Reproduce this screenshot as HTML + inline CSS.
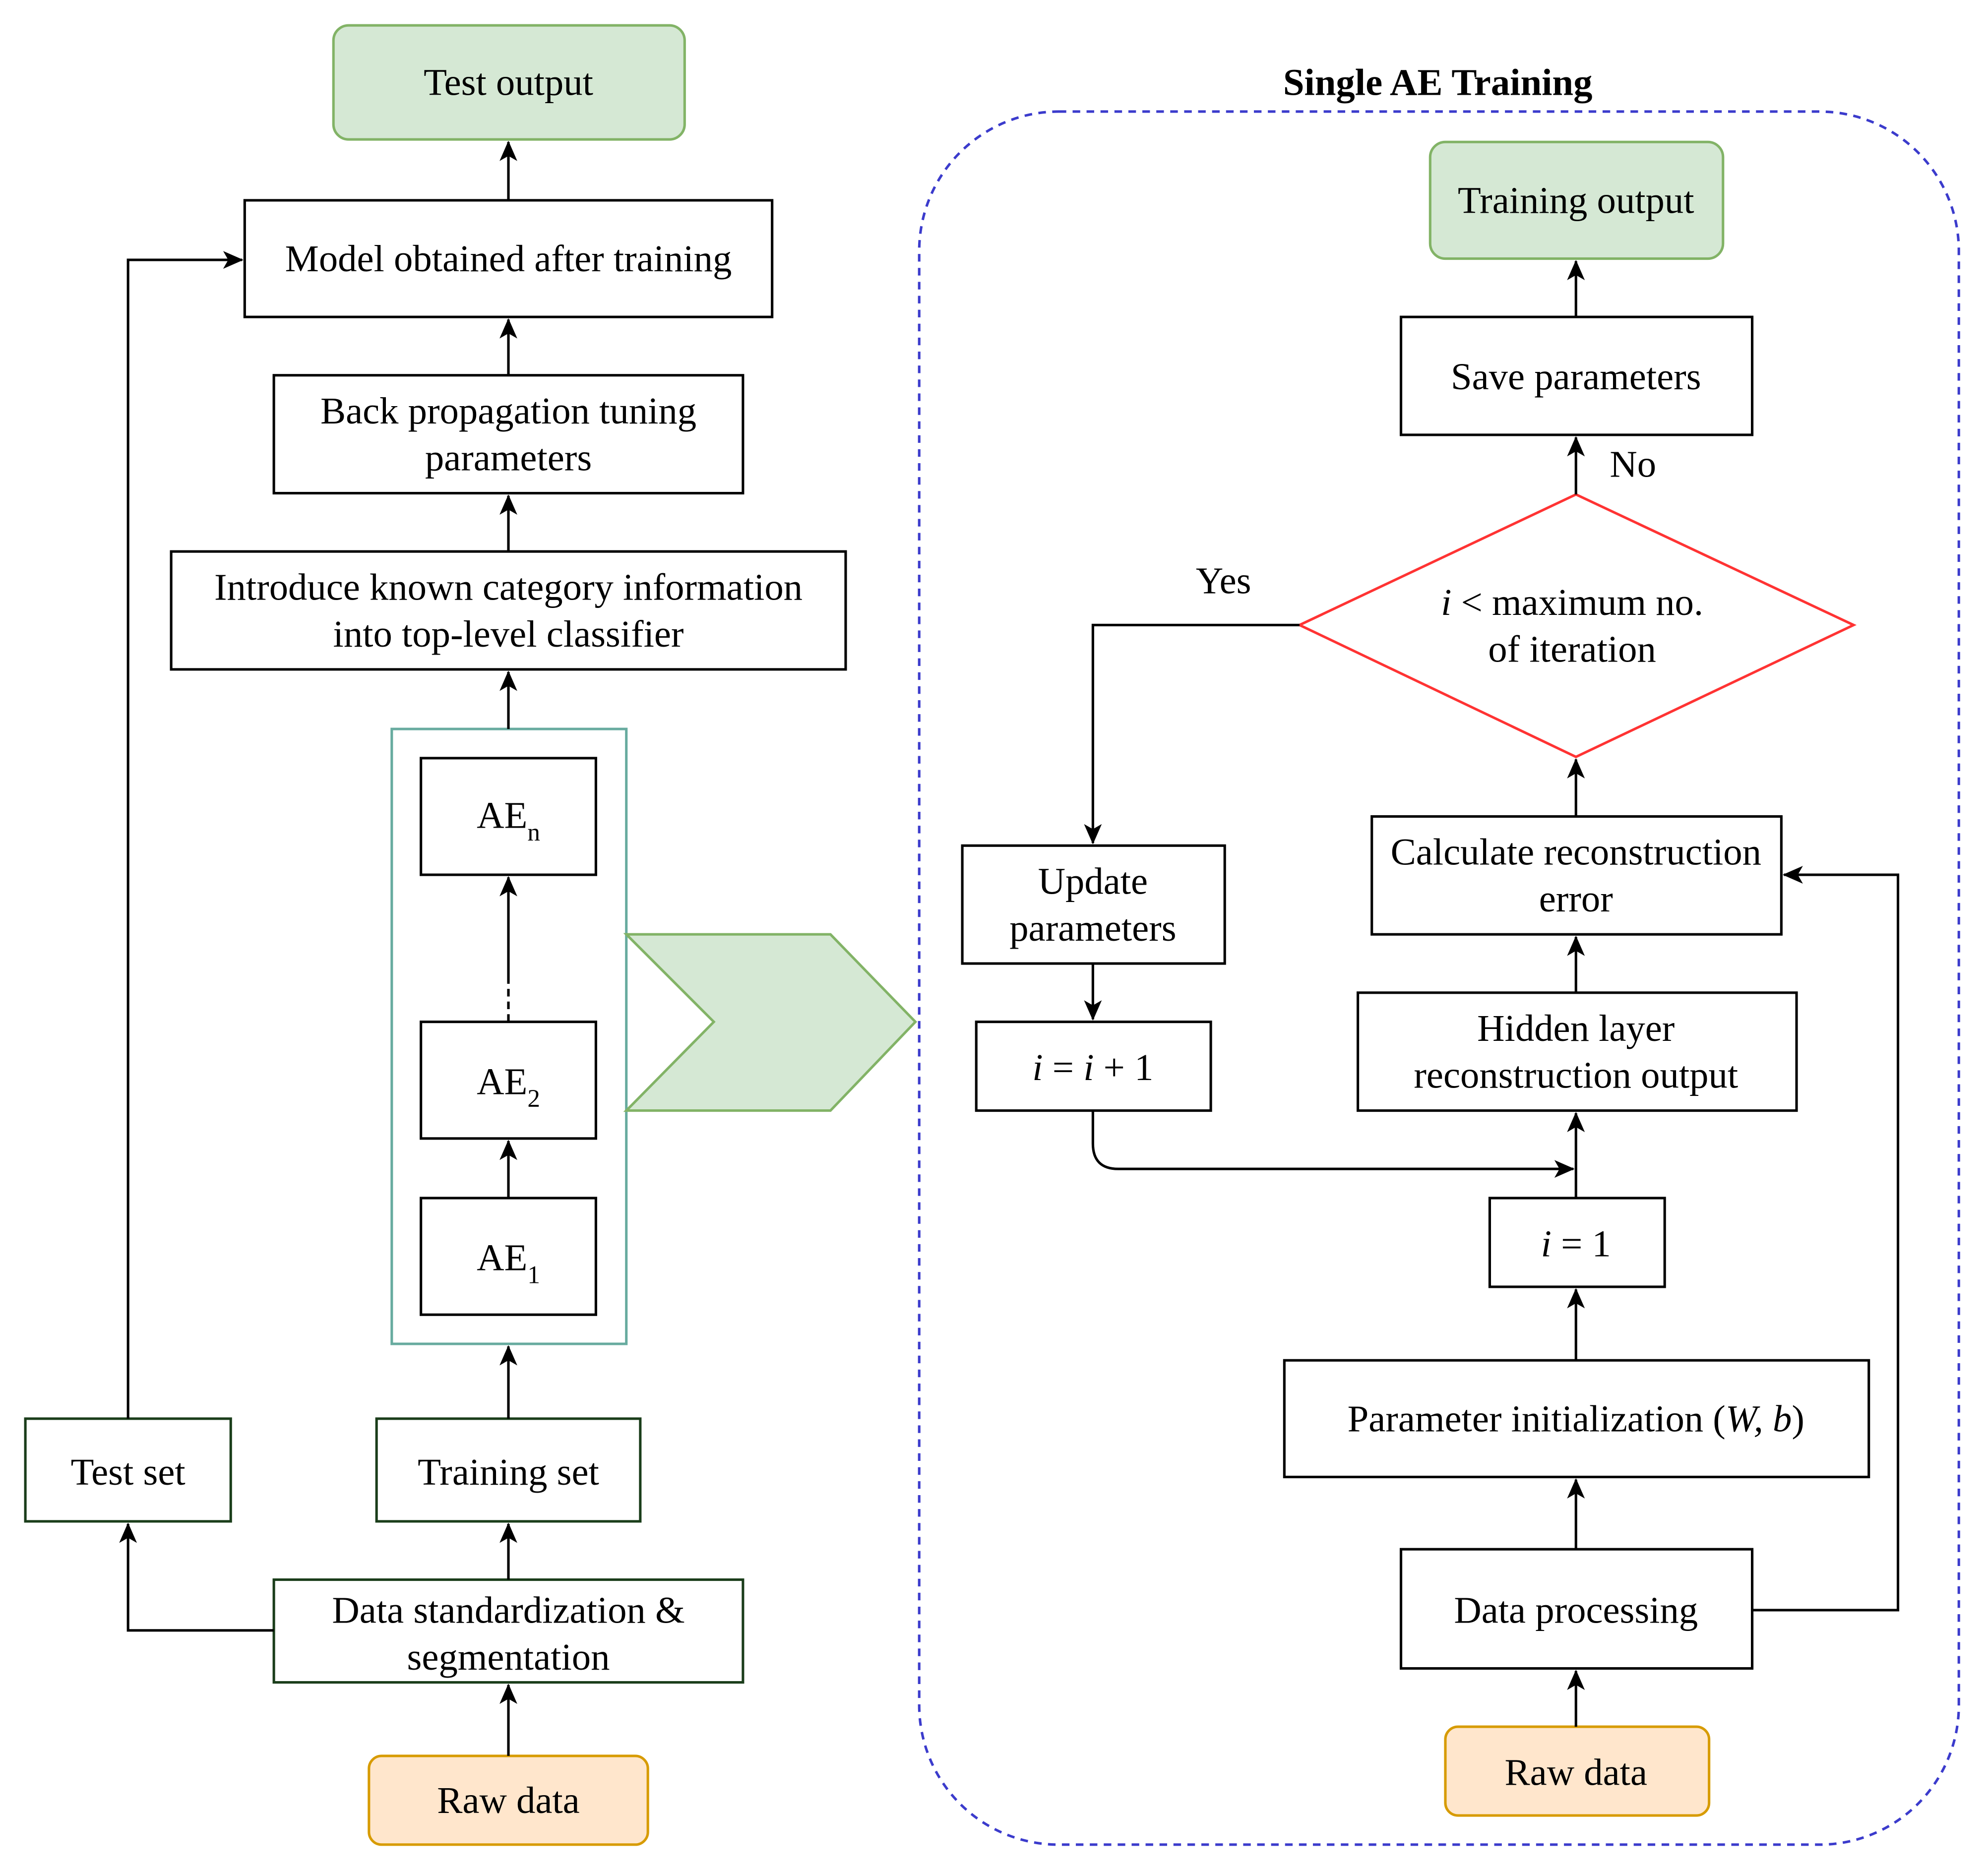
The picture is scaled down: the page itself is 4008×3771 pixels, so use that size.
<!DOCTYPE html>
<html><head><meta charset="utf-8"><style>
html,body{margin:0;padding:0;background:#fff;}
svg{display:block;}
svg text{font-family:"Liberation Serif","DejaVu Serif",serif;font-size:30px;fill:#000;}
</style></head><body>
<svg width="4008" height="3771" viewBox="0 0 1568 1475" preserveAspectRatio="none" xmlns="http://www.w3.org/2000/svg" font-family="Liberation Serif, DejaVu Serif, serif">
<defs>
<marker id="a" markerWidth="16" markerHeight="16" refX="15" refY="8" orient="auto" markerUnits="userSpaceOnUse" viewBox="0 0 16 16">
<path d="M0,1 L16,8 L0,15 L4,8 Z" fill="#000"/></marker>
</defs>
<g fill="none" stroke="#000" stroke-width="2">
<rect x="263" y="20" width="277" height="90" rx="12" fill="#d5e8d4" stroke="#82b366"/>
<rect x="193" y="158" width="416" height="92" fill="#fff"/>
<rect x="216" y="296" width="370" height="93" fill="#fff"/>
<rect x="135" y="435" width="532" height="93" fill="#fff"/>
<rect x="309" y="575" width="185" height="485" stroke="#67ab9f"/>
<rect x="332" y="598" width="138" height="92"/>
<rect x="332" y="806" width="138" height="92"/>
<rect x="332" y="945" width="138" height="92"/>
<rect x="297" y="1119" width="208" height="81" stroke="#1a3d1a"/>
<rect x="20" y="1119" width="162" height="81" stroke="#1a3d1a"/>
<rect x="216" y="1246" width="370" height="81" stroke="#1a3d1a"/>
<rect x="291" y="1385" width="220" height="70" rx="10" fill="#ffe6cc" stroke="#d79b00"/>
<polygon points="494,737 655,737 722,806 655,876 494,876 563,806" fill="#d5e8d4" stroke="#82b366"/>
<line x1="401" y1="158" x2="401" y2="112" marker-end="url(#a)"/>
<line x1="401" y1="296" x2="401" y2="252" marker-end="url(#a)"/>
<line x1="401" y1="435" x2="401" y2="391" marker-end="url(#a)"/>
<line x1="401" y1="575" x2="401" y2="530" marker-end="url(#a)"/>
<line x1="401" y1="945" x2="401" y2="900" marker-end="url(#a)"/>
<line x1="401" y1="806" x2="401" y2="775" stroke-dasharray="6,4"/>
<line x1="401" y1="775" x2="401" y2="692" marker-end="url(#a)"/>
<line x1="401" y1="1119" x2="401" y2="1062" marker-end="url(#a)"/>
<line x1="401" y1="1246" x2="401" y2="1202" marker-end="url(#a)"/>
<line x1="401" y1="1385" x2="401" y2="1329" marker-end="url(#a)"/>
<polyline points="216,1286 101,1286 101,1202" marker-end="url(#a)"/>
<polyline points="101,1119 101,205 191,205" marker-end="url(#a)"/>
<rect x="725" y="88" width="820" height="1367" rx="110" stroke="#3b3bcc" stroke-dasharray="6,5"/>
<rect x="1128" y="112" width="231" height="92" rx="12" fill="#d5e8d4" stroke="#82b366"/>
<rect x="1105" y="250" width="277" height="93"/>
<polygon points="1243,390 1462,493 1243,597 1025,493" stroke="#ff3333"/>
<rect x="1082" y="644" width="323" height="93"/>
<rect x="1071" y="783" width="346" height="93"/>
<rect x="1175" y="945" width="138" height="70"/>
<rect x="1013" y="1073" width="461" height="92"/>
<rect x="1105" y="1222" width="277" height="94"/>
<rect x="1140" y="1362" width="208" height="70" rx="10" fill="#ffe6cc" stroke="#d79b00"/>
<rect x="759" y="667" width="207" height="93"/>
<rect x="770" y="806" width="185" height="70"/>
<line x1="1243" y1="250" x2="1243" y2="206" marker-end="url(#a)"/>
<line x1="1243" y1="390" x2="1243" y2="345" marker-end="url(#a)"/>
<line x1="1243" y1="644" x2="1243" y2="599" marker-end="url(#a)"/>
<line x1="1243" y1="783" x2="1243" y2="739" marker-end="url(#a)"/>
<line x1="1243" y1="945" x2="1243" y2="878" marker-end="url(#a)"/>
<line x1="1243" y1="1073" x2="1243" y2="1017" marker-end="url(#a)"/>
<line x1="1243" y1="1222" x2="1243" y2="1167" marker-end="url(#a)"/>
<line x1="1243" y1="1362" x2="1243" y2="1318" marker-end="url(#a)"/>
<polyline points="1025,493 862,493 862,665" marker-end="url(#a)"/>
<line x1="862" y1="760" x2="862" y2="804" marker-end="url(#a)"/>
<path d="M862,876 L862,902 Q862,922 882,922 L1241,922" marker-end="url(#a)"/>
<polyline points="1382,1270 1497,1270 1497,690 1407,690" marker-end="url(#a)"/>
</g>
<g text-anchor="middle" font-family="Liberation Serif, DejaVu Serif, serif" font-size="30">
<text x="401" y="75">Test output</text>
<text x="401" y="214">Model obtained after training</text>
<text x="401" y="334">Back propagation tuning</text>
<text x="401" y="371">parameters</text>
<text x="401" y="473">Introduce known category information</text>
<text x="401" y="510">into top-level classifier</text>
<text x="401" y="653">AE<tspan font-size="20" dy="10">n</tspan></text>
<text x="401" y="863">AE<tspan font-size="20" dy="10">2</tspan></text>
<text x="401" y="1002">AE<tspan font-size="20" dy="10">1</tspan></text>
<text x="401" y="1171">Training set</text>
<text x="101" y="1171">Test set</text>
<text x="401" y="1280">Data standardization &amp;</text>
<text x="401" y="1317">segmentation</text>
<text x="401" y="1430">Raw data</text>
<text x="1134" y="75" font-weight="bold">Single AE Training</text>
<text x="1243" y="168">Training output</text>
<text x="1243" y="307">Save parameters</text>
<text x="1240" y="485"><tspan font-style="italic">i</tspan> &lt; maximum no.</text>
<text x="1240" y="522">of iteration</text>
<text x="1243" y="682">Calculate reconstruction</text>
<text x="1243" y="719">error</text>
<text x="1243" y="821">Hidden layer</text>
<text x="1243" y="858">reconstruction output</text>
<text x="1243" y="991"><tspan font-style="italic">i</tspan> = 1</text>
<text x="1243" y="1129">Parameter initialization (<tspan font-style="italic">W, b</tspan>)</text>
<text x="1243" y="1280">Data processing</text>
<text x="1243" y="1408">Raw data</text>
<text x="862" y="705">Update</text>
<text x="862" y="742">parameters</text>
<text x="862" y="852"><tspan font-style="italic">i</tspan> = <tspan font-style="italic">i</tspan> + 1</text>
<text x="965" y="468">Yes</text>
<text x="1288" y="376">No</text>
</g>
</svg>
</body></html>
